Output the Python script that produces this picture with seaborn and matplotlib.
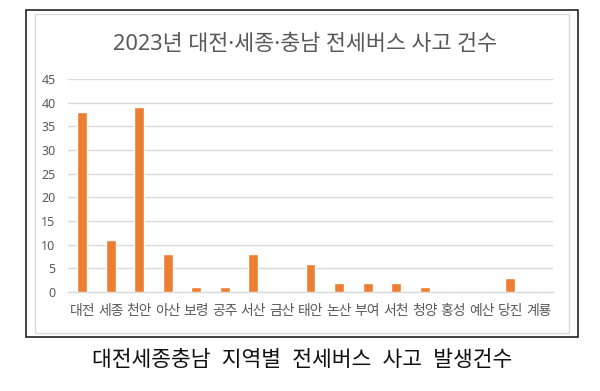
import matplotlib
matplotlib.use("Agg")
import matplotlib.pyplot as plt
import seaborn as sns
import pandas as pd
from matplotlib.patches import Rectangle

categories = ["대전", "세종", "천안", "아산", "보령", "공주", "서산", "금산", "태안",
              "논산", "부여", "서천", "청양", "홍성", "예산", "당진", "계룡"]
values = [38, 11, 39, 8, 1, 1, 8, 0, 6, 2, 2, 2, 1, 0, 0, 3, 0]
yticks = [0, 5, 10, 15, 20, 25, 30, 35, 40, 45]
title = "2023년 대전·세종·충남 전세버스 사고 건수"
caption = "대전세종충남  지역별  전세버스  사고  발생건수"

sns.set_theme(style="white")
plt.rcParams['font.family'] = ['Noto Sans', 'Noto Sans CJK KR', 'DejaVu Sans']

df = pd.DataFrame({"region": categories, "count": values})

W, H = 600, 391
fig = plt.figure(figsize=(6, 3.91), dpi=100)
fig.patch.set_facecolor("white")

fig.add_artist(Rectangle((26 / W, 1 - 337 / H), (578 - 26) / W, (337 - 10) / H,
                         transform=fig.transFigure, fill=False, edgecolor="#222222", linewidth=1.2))
fig.add_artist(Rectangle((35 / W, 1 - 333 / H), (569 - 35) / W, (333 - 14) / H,
                         transform=fig.transFigure, fill=False, edgecolor="#D9D9D9", linewidth=1.0))

ax = fig.add_axes([68 / W, 1 - 292 / H, (553 - 68) / W, (292 - 79) / H])
sns.barplot(data=df, x="region", y="count", color="#ED7D31", width=0.35,
            saturation=1, ax=ax, zorder=3)

ax.set_ylim(0, 45)
ax.set_yticks(yticks)
ax.grid(axis="y", color="#D9D9D9", linewidth=1.0, zorder=0)
ax.set_axisbelow(True)
for s in ["top", "right", "left"]:
    ax.spines[s].set_visible(False)
ax.spines["bottom"].set_color("#D9D9D9")
ax.spines["bottom"].set_linewidth(1.0)
ax.set_xlabel("")
ax.set_ylabel("")
ax.tick_params(axis="both", length=0, colors="#595959")
ax.tick_params(axis="y", pad=9, labelsize=9)
ax.tick_params(axis="x", pad=9, labelsize=10)

t1 = fig.text(305 / W, 1 - 45 / H, title, ha="center", va="center", fontsize=15, color="#595959")
t2 = fig.text(302 / W, 1 - 361 / H, caption, ha="center", va="center", fontsize=14.5, color="#111111")

# fit text widths to the reference extents
fig.canvas.draw()
r = fig.canvas.get_renderer()
for t, target in [(t1, 384), (t2, 421)]:
    w = t.get_window_extent(r).width
    t.set_fontsize(t.get_fontsize() * target / w)

fig.savefig("out.png", dpi=100)
